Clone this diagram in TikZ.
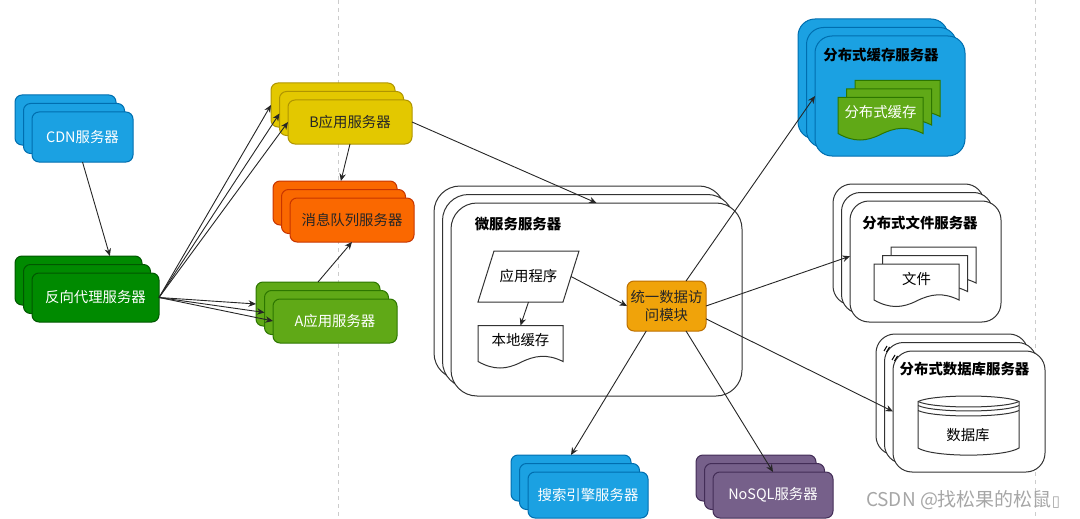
\documentclass[tikz,border=0pt]{standalone}
\usepackage{fontspec}
\setmainfont{Noto Sans CJK SC}
\newfontfamily\symbfont{DejaVu Sans}
\usetikzlibrary{arrows.meta}
\definecolor{blueF}{HTML}{1BA1E2}
\definecolor{blueD}{HTML}{006EAF}
\definecolor{darkgreenF}{HTML}{008A00}
\definecolor{darkgreenD}{HTML}{005700}
\definecolor{limeF}{HTML}{60A917}
\definecolor{limeD}{HTML}{2D7600}
\definecolor{yellowF}{HTML}{E3C800}
\definecolor{yellowD}{HTML}{B09500}
\definecolor{orangeF}{HTML}{FA6800}
\definecolor{orangeD}{HTML}{C73500}
\definecolor{purpleF}{HTML}{76608A}
\definecolor{purpleD}{HTML}{432D57}
\definecolor{amberF}{HTML}{F0A30A}
\definecolor{amberD}{HTML}{BD7000}
\begin{document}
\begin{tikzpicture}[x=1pt, y=-1pt, >={Stealth[length=7.5pt, width=6.5pt]}, line width=1pt,
  every node/.style={font=\fontsize{14.4}{18}\selectfont, inner sep=0pt, outer sep=0pt},
  layer/.style={draw, rounded corners=7pt},
  cdnbox/.style={layer, fill=blueF, draw=blueD, text=white},
  proxybox/.style={layer, fill=darkgreenF, draw=darkgreenD, text=white},
  appAbox/.style={layer, fill=limeF, draw=limeD, text=white},
  appBbox/.style={layer, fill=yellowF, draw=yellowD, text=black!85},
  queuebox/.style={layer, fill=orangeF, draw=orangeD, text=black!85},
  nosqlbox/.style={layer, fill=purpleF, draw=purpleD, text=white},
  cachesrv/.style={layer, rounded corners=17pt, fill=blueF, draw=blueD},
  plainsrv/.style={layer, rounded corners=19pt, fill=white, draw=black!80},
  microsrv/.style={layer, rounded corners=26pt, fill=white, draw=black!80},
  title/.style={font=\fontsize{14.4}{18}\selectfont\bfseries, text=black},
  greendoc/.style={fill=limeF, draw=limeD},
  whitedoc/.style={fill=white, draw=black!80},
  link/.style={->, black!85, line width=0.9pt}]
  \useasboundingbox (0,0) rectangle (1080,519);
  % Dashed guides
  \draw[black!20, dash pattern=on 4pt off 4pt] (338.5,0) -- (338.5,519);
  \draw[black!20, dash pattern=on 4pt off 4pt] (1035,0) -- (1035,519);
  % Server stacks: back layer, middle layer, front layer
  \foreach \nm/\x/\y/\bw/\bh/\sty/\txt in {
    cdn/82.5/137/101/50/cdnbox/CDN服务器,
    proxy/95.5/297.5/127/49/proxybox/反向代理服务器,
    appB/350/122/124/44/appBbox/B应用服务器,
    queue/352/220/124/44/queuebox/消息队列服务器,
    appA/335/321/124/44/appAbox/A应用服务器,
    search/588/495/120/46/cdnbox/搜索引擎服务器,
    nosql/773/495/120/46/nosqlbox/NoSQL服务器,
    micro/596.5/299.5/291/193/microsrv/,
    cachesv/890/96/150/120/cachesrv/,
    filesv/925.5/261.5/151/121/plainsrv/,
    dbsv/969/411.5/152/121/plainsrv/}
  {
    \node[\sty, minimum width=\bw pt, minimum height=\bh pt] (\nm a) at (\x-17,\y-17) {};
    \node[\sty, minimum width=\bw pt, minimum height=\bh pt] (\nm b) at (\x-8.5,\y-8.5) {};
    \node[\sty, minimum width=\bw pt, minimum height=\bh pt] (\nm) at (\x,\y) {\txt};
  }
  % Leftovers of the hidden titles on the database layers
  \draw[line width=1pt] (884,351) -- (887,346) (886.5,352) -- (889.5,347);
  \draw[line width=1pt] (892,360) -- (895,355) (894.5,361) -- (897.5,356);
  % Titles
  \node[title] (microtitle) at (518,224) {微服务服务器};
  \node[title] (cachetitle) at (881,55) {分布式缓存服务器};
  \node[title] (filetitle) at (920,223) {分布式文件服务器};
  \node[title] (dbtitle) at (964.5,369) {分布式数据库服务器};
  % Wavy documents
  \foreach \nm/\x/\y/\sty/\col/\txt/\layers in {
    cachedoc/880.5/115.5/greendoc/white/分布式缓存/{17,8.5,0},
    filedoc/916.5/282/whitedoc/black/文件/{17,8.5,0},
    localdoc/520.5/343.5/whitedoc/black/本地缓存/{0}}
  {
    \foreach \d in \layers
      \draw[\sty] (\x-42.5+\d,\y+18-\d) -- (\x-42.5+\d,\y-18-\d) -- (\x+42.5+\d,\y-18-\d) -- (\x+42.5+\d,\y+18-\d)
        .. controls +(-16,-8) and +(14,-7) .. (\x+\d,\y+19-\d)
        .. controls +(-14,7) and +(16,9) .. cycle;
    \node[text=\col, minimum width=85pt, minimum height=30pt] (\nm) at (\x,\y-3) {\txt};
  }
  % Application and access module
  \draw[whitedoc] (494,251) -- (579,251) -- (563,302) -- (478,302) -- cycle;
  \node[minimum width=85pt, minimum height=51pt] (program) at (528.5,276.5) {应用程序};
  \node[layer, fill=amberF, draw=amberD, text=black!85, align=center, minimum width=79pt, minimum height=50pt]
    (module) at (666.5,306) {统一数据访\\问模块};
  % Database cylinder
  \draw[whitedoc] (918,401.5) -- (918,448) .. controls +(15,9.5) and +(-15,9.5) .. (1019,448) -- (1019,401.5)
    .. controls +(-15,-7.3) and +(15,-7.3) .. cycle;
  \foreach \y in {401.5,405.5,410.5}
    \draw[black!80] (918,\y) .. controls +(15,7.3) and +(-15,7.3) .. (1019,\y);
  \node (dbcyl) at (968,435) {数据库};
  % Connectors
  \draw[link] (cdn.south) -- (proxya.38);
  \foreach \nm in {appBa,appBb,appB,appAa,appAb,appA}
    \draw[link] (proxy.east) -- (\nm.west);
  \draw[link] (appB.south) -- (queuea.75);
  \draw[link] (appAa.north) -- (queue.south);
  \draw[link] (appB.east) -- (micro.north);
  \draw[link] (program.east) -- (module.west);
  \draw[link] (program.south) -- (localdoc.north);
  \draw[link] (module.52) -- (cachesv.west);
  \draw[link] (module.east) -- (filesv.176);
  \draw[link] (module.-18) -- (dbsv.west);
  \draw[link] (module.-129) -- (searcha.north);
  \draw[link] (module.-52) -- (nosql.north);
  % Watermark
  \node[anchor=west, text=black!35, font=\fontsize{19}{22}\selectfont] (mark) at (866,500) {CSDN @找松果的松鼠{\symbfont\fontsize{15}{17}\selectfont ▯}};
\end{tikzpicture}
\end{document}
